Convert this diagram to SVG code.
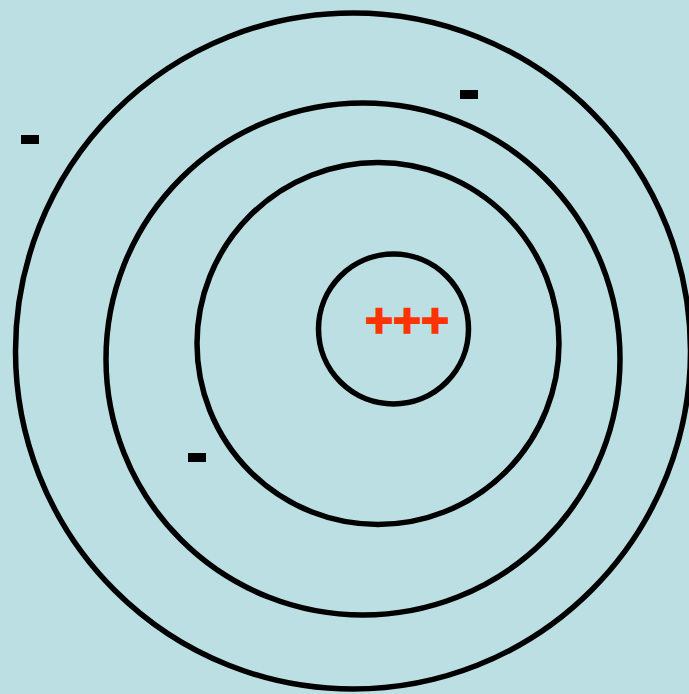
<svg xmlns="http://www.w3.org/2000/svg" width="689" height="694" viewBox="0 0 689 694">
<style>
.orbit{fill:none;stroke:#000;stroke-width:5.5}
.e{fill:#000}
.n{fill:#FF3300;stroke:#FF3300;stroke-width:1.6;font-family:"Liberation Sans",Arial,sans-serif;font-weight:bold;font-size:48px}
</style>
<rect width="689" height="694" fill="#BBDFE3"/>
<g id="orbit4"><ellipse class="orbit" cx="353" cy="351" rx="337.5" ry="338"/></g>
<g id="orbit3"><ellipse class="orbit" cx="363" cy="359" rx="257" ry="256"/></g>
<g id="orbit2"><ellipse class="orbit" cx="378" cy="343.5" rx="181" ry="181"/></g>
<g id="nucleus"><ellipse class="orbit" cx="393.5" cy="329" rx="75" ry="75"/>
<text class="n" x="365" y="337">+++</text></g>
<g id="electron1"><rect class="e" x="21" y="135" width="18" height="9"/></g>
<g id="electron2"><rect class="e" x="460" y="90" width="18" height="9"/></g>
<g id="electron3"><rect class="e" x="188" y="453" width="18" height="9"/></g>
<g id="connectors"></g>
</svg>
